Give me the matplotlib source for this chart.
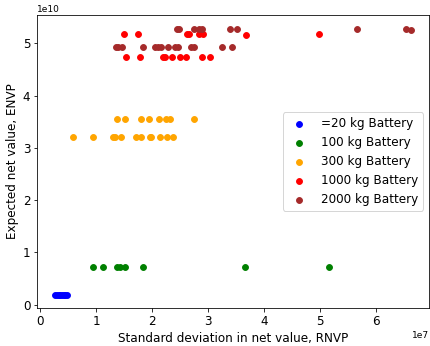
import numpy as np
import matplotlib
matplotlib.use('Agg')
import matplotlib.pyplot as plt

# values (x in units of 1e7, y in units of 1e10)
x_20 = [0.27, 0.30, 0.33, 0.36, 0.39, 0.42, 0.45, 0.48]
y_20 = [0.19, 0.19, 0.19, 0.19, 0.19, 0.19, 0.19, 0.19]

x_100 = [0.94, 1.13, 1.37, 1.43, 1.51, 1.84, 3.66, 5.17]
y_100 = [0.728] * 8

x_300 = [1.38, 1.52, 1.81, 1.94, 2.12, 2.25, 2.33, 2.75,
         0.59, 0.94, 1.30, 1.34, 1.44, 1.71, 1.81, 1.96, 1.99, 2.15, 2.27, 2.38]
y_300 = [3.544] * 8 + [3.207] * 12

x_1000 = [1.50, 1.75, 2.63, 2.66, 2.85, 2.91, 3.68, 4.98,
          1.54, 1.78, 2.20, 2.24, 2.36, 2.50, 2.61, 2.89, 3.03]
y_1000 = [5.172] * 6 + [5.165, 5.172] + [4.735] * 9

x_2000 = [2.44, 2.48, 2.75, 2.85, 2.90, 3.39, 3.53, 5.66, 6.54, 6.64,
          1.36, 1.39, 1.46, 1.84, 2.05, 2.11, 2.17, 2.29, 2.41, 2.46, 2.69, 2.75, 3.26, 3.44]
y_2000 = [5.282] * 9 + [5.26] + [4.925] * 14

x_20 = np.array(x_20) * 1e7
x_100 = np.array(x_100) * 1e7
x_300 = np.array(x_300) * 1e7
x_1000 = np.array(x_1000) * 1e7
x_2000 = np.array(x_2000) * 1e7
y_20 = np.array(y_20) * 1e10
y_100 = np.array(y_100) * 1e10
y_300 = np.array(y_300) * 1e10
y_1000 = np.array(y_1000) * 1e10
y_2000 = np.array(y_2000) * 1e10

plt.rcParams['font.size'] = 12
fig = plt.figure(figsize=(430 / 72, 346 / 72), dpi=72)
ax = fig.add_axes([0.087, 0.110, 0.911, 0.846])

ax.scatter(x_20, y_20, color='blue', s=34, label='=20 kg Battery')
ax.scatter(x_100, y_100, color='green', s=34, label='100 kg Battery')
ax.scatter(x_300, y_300, color='orange', s=34, label='300 kg Battery')
ax.scatter(x_1000, y_1000, color='red', s=34, label='1000 kg Battery')
ax.scatter(x_2000, y_2000, color='brown', s=34, label='2000 kg Battery')

ax.set_xlabel('Standard deviation in net value, RNVP')
ax.set_ylabel('Expected net value, ENVP')
ax.xaxis.get_offset_text().set_fontsize(9)
ax.yaxis.get_offset_text().set_fontsize(9)
ax.legend(loc='center right')

fig.savefig('out.png', dpi=72)
